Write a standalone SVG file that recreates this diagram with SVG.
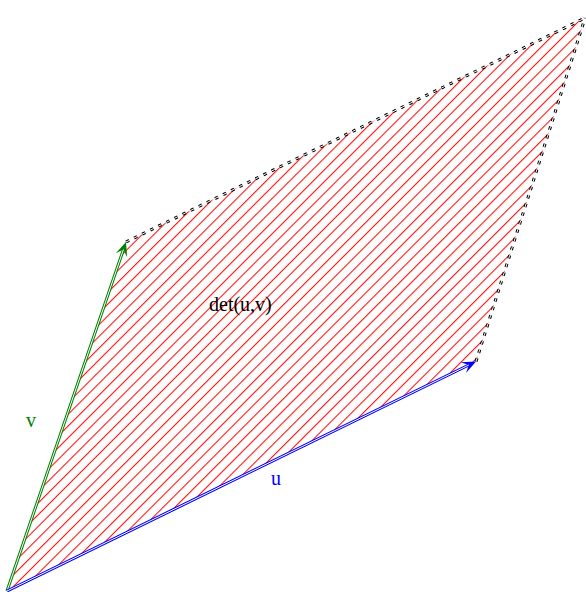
<svg xmlns="http://www.w3.org/2000/svg" width="586" height="592" viewBox="0 0 586 592">
<style>
.hatch{stroke:#ff0000;stroke-width:1}
.dash{fill:none;stroke:#000;stroke-width:3;stroke-dasharray:3.5 5.5}
.dashin{fill:none;stroke:#fff;stroke-width:1;stroke-dasharray:3.5 5.5}
.inner{fill:none;stroke:#fff;stroke-width:1}
.lbl{font-family:"Liberation Serif","Times New Roman",serif;font-size:20px}
</style>
<defs>
<pattern id="hp" patternUnits="userSpaceOnUse" width="8.308" height="20" patternTransform="rotate(45)">
<line class="hatch" x1="0.53" y1="-1" x2="0.53" y2="21"/>
</pattern>
<marker id="ag" markerUnits="userSpaceOnUse" orient="auto" refX="0" refY="0" markerWidth="30" markerHeight="30" overflow="visible">
<path d="M8,0 L-6,-6 L0,0 L-6,6 Z" fill="#008000"/>
</marker>
<marker id="ab" markerUnits="userSpaceOnUse" orient="auto" refX="0" refY="0" markerWidth="30" markerHeight="30" overflow="visible">
<path d="M8,0 L-6,-6 L0,0 L-6,6 Z" fill="#0000ff"/>
</marker>
</defs>
<rect width="586" height="592" fill="#fff"/>
<g id="area">
<polygon points="7,591 476,361.5 585,18 126,242" fill="url(#hp)" stroke="none"/>
<text class="lbl" x="209" y="311" fill="#000">det(u,v)</text>
</g>
<g id="connectors">
<g id="edge-top">
<path class="dash" d="M126,242 L585,18"/>
<path class="dashin" d="M126,242 L585,18"/>
</g>
<g id="edge-right">
<path class="dash" d="M476,361.5 L585,18"/>
<path class="dashin" d="M476,361.5 L585,18"/>
</g>
<g id="vec-v">
<path d="M7,591 L123.4,249.6" fill="none" stroke="#008000" stroke-width="3" marker-end="url(#ag)"/>
<path class="inner" d="M7,591 L123.4,249.6"/>
</g>
<g id="vec-u">
<path d="M7,591 L468.8,365" fill="none" stroke="#0000ff" stroke-width="3" marker-end="url(#ab)"/>
<path class="inner" d="M7,591 L468.8,365"/>
</g>
</g>
<g id="label-v"><text class="lbl" x="26" y="427" fill="#008000">v</text></g>
<g id="label-u"><text class="lbl" x="271" y="485" fill="#0000ff">u</text></g>
</svg>
